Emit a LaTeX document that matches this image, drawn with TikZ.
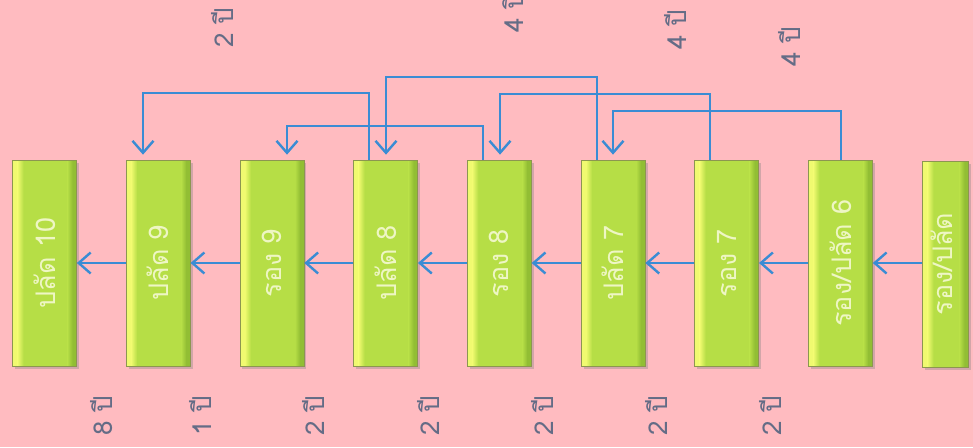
\documentclass[tikz,border=0pt]{standalone}
\usepackage{fontspec}
\newfontfamily\thaifont[Script=Thai]{Loma}
\usetikzlibrary{arrows.meta,shadows}

\definecolor{bgpink}{RGB}{255,187,192}
\definecolor{boxgreen}{RGB}{182,222,70}
\definecolor{boxlight}{RGB}{240,250,112}
\definecolor{boxdark}{RGB}{146,190,52}
\definecolor{boxedge}{RGB}{140,150,80}
\definecolor{boxtext}{RGB}{238,246,196}
\definecolor{linkblue}{RGB}{58,140,212}
\definecolor{yeartext}{RGB}{100,108,134}

\tikzset{
  stepbox/.style={draw=boxedge, line width=0.7pt, fill=boxgreen,
    drop shadow={opacity=0.35, shadow xshift=2.5pt, shadow yshift=-2.5pt},
    minimum width=64pt, minimum height=206pt, inner sep=0pt,
    path picture={
      % bright band on the left edge, fading into the body
      \fill[boxlight] (path picture bounding box.south west)
        rectangle ([xshift=5pt]path picture bounding box.north west);
      \shade[left color=boxlight, right color=boxgreen]
        ([xshift=5pt]path picture bounding box.south west)
        rectangle ([xshift=11pt]path picture bounding box.north west);
      % darker band on the right edge
      \shade[left color=boxgreen, right color=boxdark]
        ([xshift=-9pt]path picture bounding box.south east)
        rectangle ([xshift=-4pt]path picture bounding box.north east);
      \fill[boxdark] ([xshift=-4pt]path picture bounding box.south east)
        rectangle (path picture bounding box.north east);
    }},
  boxlabel/.style={rotate=90, text=boxtext, inner sep=0pt,
    font=\thaifont\fontsize{27}{29}\selectfont},
  years/.style={rotate=90, text=yeartext, inner sep=0pt,
    font=\thaifont\fontsize{26}{28}\selectfont},
  flow/.style={draw=linkblue, line width=2.4pt,
    -{Straight Barb[length=12pt,width=21pt,line width=2.4pt]}},
}

\begin{document}
\begin{tikzpicture}[x=1pt,y=-1pt]
  \fill[bgpink] (0,0) rectangle (973,447);
  \useasboundingbox (0,0) rectangle (973,447);

  % the chain of posts
  \node[stepbox] (b1) at (44.5,263) {};
  \node[stepbox] (b2) at (158.2,263) {};
  \node[stepbox] (b3) at (271.9,263) {};
  \node[stepbox] (b4) at (385.6,263) {};
  \node[stepbox] (b5) at (499.3,263) {};
  \node[stepbox] (b6) at (613,263) {};
  \node[stepbox] (b7) at (726.7,263) {};
  \node[stepbox] (b8) at (840.4,263) {};
  \node[stepbox, minimum width=46pt] (b9) at (945.5,264) {};

  \node[boxlabel] (l1) at (b1) {ปลัด 10};
  \node[boxlabel] (l2) at (b2) {ปลัด 9};
  \node[boxlabel] (l3) at (b3) {รอง 9};
  \node[boxlabel] (l4) at (b4) {ปลัด 8};
  \node[boxlabel] (l5) at (b5) {รอง 8};
  \node[boxlabel] (l6) at (b6) {ปลัด 7};
  \node[boxlabel] (l7) at (b7) {รอง 7};
  \node[boxlabel] (l8) at (b8) {รอง/ปลัด 6};
  \node[boxlabel] (l9) at ([xshift=-4pt]b9.center) {รอง/ปลัด};

  % step-by-step promotion arrows
  \foreach \a/\b in {b8/b7, b7/b6, b6/b5, b5/b4, b4/b3, b3/b2, b2/b1}
    \draw[flow] (\a.west) -- (\b.east);
  \draw[flow] (b9.west |- b8.east) -- (b8.east);

  % shortcut arrows over the top
  \draw[flow] ([xshift=-16.6pt]b4.north) |- (143,93) -- ([xshift=-15.2pt,yshift=5pt]b2.north);
  \draw[flow] ([xshift=-16.3pt]b5.north) |- (287,126) -- ([xshift=15.1pt,yshift=5pt]b3.north);
  \draw[flow] ([xshift=-16pt]b6.north) |- (386,77) -- ([xshift=0.4pt,yshift=5pt]b4.north);
  \draw[flow] ([xshift=-16.7pt]b7.north) |- (500,94) -- ([xshift=0.7pt,yshift=5pt]b5.north);
  \draw[flow] ([xshift=0.6pt]b8.north) |- (613,111) -- ([yshift=5pt]b6.north);

  % years above
  \node[years] (t1) at (222,28) {2 ปี};
  \node[years] (t2) at (512,13) {4 ปี};
  \node[years] (t3) at (675,30) {4 ปี};
  \node[years] (t4) at (789,47) {4 ปี};

  % years below
  \node[years] (u1) at (102,416) {8 ปี};
  \node[years] (u2) at (200,416) {1 ปี};
  \node[years] (u3) at (313,416) {2 ปี};
  \node[years] (u4) at (428,416) {2 ปี};
  \node[years] (u5) at (542,416) {2 ปี};
  \node[years] (u6) at (656,416) {2 ปี};
  \node[years] (u7) at (770,416) {2 ปี};
\end{tikzpicture}
\end{document}
